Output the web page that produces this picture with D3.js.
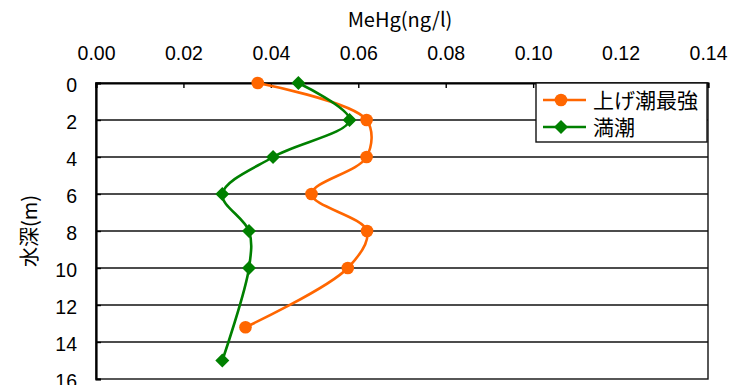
<!DOCTYPE html>
<html>
<head>
<meta charset="utf-8">
<script src="https://cdn.jsdelivr.net/npm/d3@7"></script>
<style>
  body { margin: 0; background: #fff; }
  text { font-family: "Liberation Sans", Arial, sans-serif; fill: #000; }
  .jp { font-family: "Noto Sans CJK JP", sans-serif; }
</style>
</head>
<body>
<svg width="744" height="385"></svg>
<script>
const svg = d3.select('svg');

// depth (m) and MeHg (ng/l) for each series
const risingDepth = [0, 2, 4, 6, 8, 10, 13.2];
const risingValue = [0.037, 0.0619, 0.0619, 0.0493, 0.062, 0.0576, 0.0342];
const highDepth = [0, 2, 4, 6, 8, 10, 15];
const highValue = [0.0463, 0.058, 0.0405, 0.0289, 0.035, 0.035, 0.0289];
const seriesNames = ['上げ潮最強', '満潮'];
const xTicks = [0, 0.02, 0.04, 0.06, 0.08, 0.10, 0.12, 0.14];
const yTicks = [0, 2, 4, 6, 8, 10, 12, 14, 16];

const margin = {top: 83, left: 96, right: 36, bottom: 6};
const innerWidth = 744 - margin.left - margin.right;
const innerHeight = 379 - margin.top;

const xScale = d3.scaleLinear().domain([0, 0.14]).range([0, innerWidth]);
const yScale = d3.scaleLinear().domain([0, 16]).range([0, innerHeight]);

const g = svg.append('g')
    .attr('transform', `translate(${margin.left}, ${margin.top})`);

// horizontal gridlines
g.selectAll('.grid').data(yTicks.slice(1, -1))
  .enter().append('line')
    .attr('x1', 0).attr('x2', innerWidth)
    .attr('y1', d => yScale(d)).attr('y2', d => yScale(d))
    .attr('stroke', '#111').attr('stroke-width', 1.4);

// plot border
g.append('rect')
    .attr('width', innerWidth).attr('height', innerHeight)
    .attr('fill', 'none').attr('stroke', '#111').attr('stroke-width', 1.4);

// top axis
const xAxis = d3.axisTop(xScale)
    .tickValues(xTicks)
    .tickSize(-5)
    .tickPadding(23)
    .tickFormat(d3.format('.2f'));
const xAxisG = g.append('g').call(xAxis);
xAxisG.select('.domain').attr('stroke', '#000').attr('stroke-width', 2.2);
xAxisG.selectAll('line').attr('stroke', '#000').attr('stroke-width', 1.4);
xAxisG.selectAll('text').attr('font-size', 19.5).attr('font-family', '"Liberation Sans", Arial, sans-serif');

// left axis
const yAxis = d3.axisLeft(yScale)
    .tickValues(yTicks)
    .tickSize(-5)
    .tickPadding(19);
const yAxisG = g.append('g').call(yAxis);
yAxisG.select('.domain').attr('stroke', '#000').attr('stroke-width', 2.2);
yAxisG.selectAll('line').attr('stroke', '#000').attr('stroke-width', 1.4);
yAxisG.selectAll('text')
    .attr('font-size', 19.5)
    .attr('dy', '0.45em')
    .attr('font-family', '"Liberation Sans", Arial, sans-serif');

// axis titles
svg.append('text')
    .attr('x', 400).attr('y', 27)
    .attr('text-anchor', 'middle')
    .attr('font-size', 20)
    .attr('class', 'jp')
    .text('MeHg(ng/l)');

svg.append('text')
    .attr('class', 'jp')
    .attr('transform', `translate(37, 231) rotate(-90)`)
    .attr('text-anchor', 'middle')
    .attr('font-size', 20)
    .text('水深(m)');

// series
const lineGen = d3.line()
    .x(d => xScale(d[1]))
    .y(d => yScale(d[0]))
    .curve(d3.curveCatmullRom.alpha(0.5));

const rising = d3.zip(risingDepth, risingValue);
const high = d3.zip(highDepth, highValue);

g.append('path')
    .attr('d', lineGen(rising))
    .attr('fill', 'none').attr('stroke', '#ff6600').attr('stroke-width', 2.6);

g.append('path')
    .attr('d', lineGen(high))
    .attr('fill', 'none').attr('stroke', '#008000').attr('stroke-width', 2.6);

g.selectAll('.rm').data(rising)
  .enter().append('circle')
    .attr('cx', d => xScale(d[1])).attr('cy', d => yScale(d[0]))
    .attr('r', 6.3).attr('fill', '#ff6600');

const diamond = d3.symbol().type(d3.symbolDiamond2).size(125);
g.selectAll('.hm').data(high)
  .enter().append('path')
    .attr('d', diamond)
    .attr('transform', d => `translate(${xScale(d[1])}, ${yScale(d[0])})`)
    .attr('fill', '#008000');

// legend
const legend = svg.append('g').attr('transform', 'translate(536, 83)');
legend.append('rect')
    .attr('width', 171).attr('height', 59)
    .attr('fill', '#fff').attr('stroke', '#111').attr('stroke-width', 1.4);

const legendItems = [
  {name: seriesNames[0], color: '#ff6600', shape: 'circle', y: 17},
  {name: seriesNames[1], color: '#008000', shape: 'diamond', y: 44}
];
legendItems.forEach(item => {
  legend.append('line')
      .attr('x1', 7).attr('x2', 50)
      .attr('y1', item.y).attr('y2', item.y)
      .attr('stroke', item.color).attr('stroke-width', 2.6);
  if (item.shape === 'circle') {
    legend.append('circle').attr('cx', 25).attr('cy', item.y).attr('r', 6.3).attr('fill', item.color);
  } else {
    legend.append('path').attr('d', diamond)
        .attr('transform', `translate(25, ${item.y})`).attr('fill', item.color);
  }
  legend.append('text')
      .attr('class', 'jp')
      .attr('x', 57).attr('y', item.y + 8)
      .attr('font-size', 21)
      .text(item.name);
});
</script>
</body>
</html>
